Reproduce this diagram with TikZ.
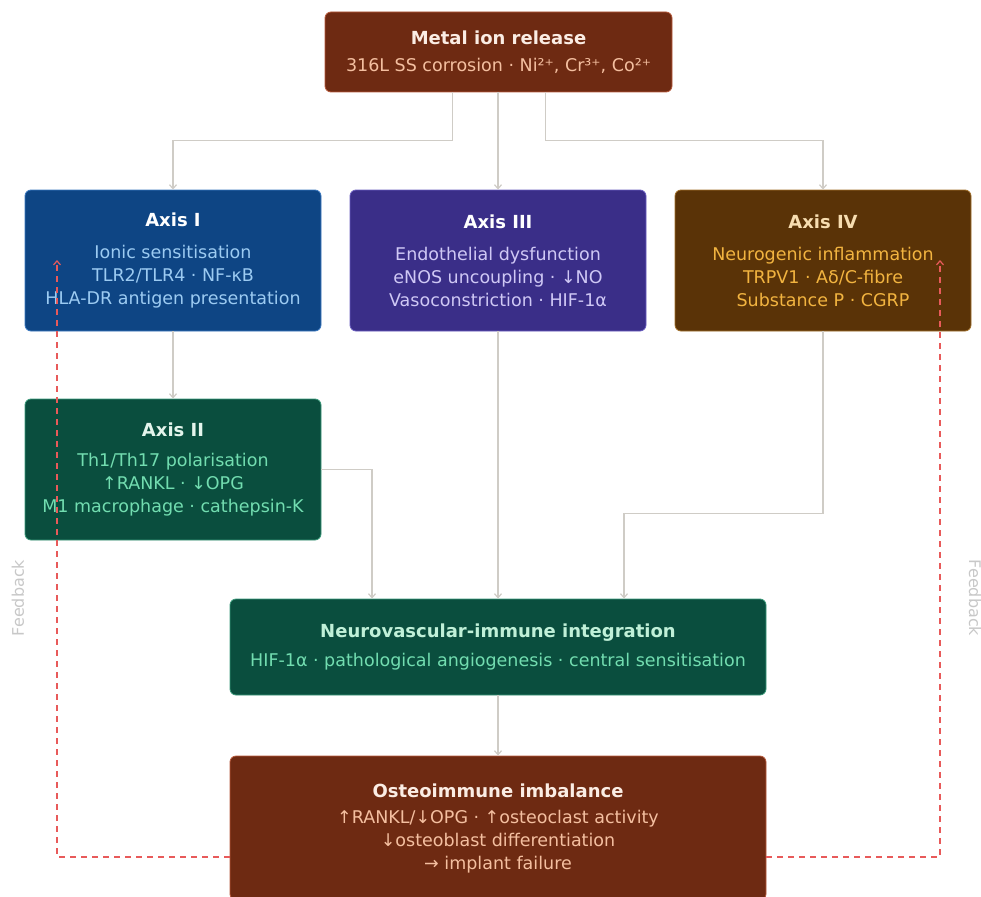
\documentclass[tikz,border=0pt]{standalone}
\usepackage{fontspec}
\setmainfont{DejaVu Sans}
\usetikzlibrary{arrows.meta,calc,positioning}
\newcommand{\upar}{↑}
\newcommand{\dnar}{↓}
\newcommand{\rar}{→}
\definecolor{rustfill}{HTML}{6E2A12}
\definecolor{rustdraw}{HTML}{B85A3C}
\definecolor{rusttitle}{HTML}{FBEDE4}
\definecolor{rusttext}{HTML}{F4BFA0}
\definecolor{bluefill}{HTML}{0E4584}
\definecolor{bluedraw}{HTML}{3A78C0}
\definecolor{bluetext}{HTML}{9CCBF2}
\definecolor{violetfill}{HTML}{3A2E88}
\definecolor{violetdraw}{HTML}{6A5EC0}
\definecolor{violettext}{HTML}{CFC8F5}
\definecolor{ochrefill}{HTML}{5A3307}
\definecolor{ochredraw}{HTML}{A2702A}
\definecolor{ochretitle}{HTML}{F7DDB0}
\definecolor{ochretext}{HTML}{F2B440}
\definecolor{greenfill}{HTML}{0A4E3E}
\definecolor{greendraw}{HTML}{3A9A7A}
\definecolor{greentitle}{HTML}{E4F5EC}
\definecolor{greentext}{HTML}{72DDB0}
\definecolor{minttitle}{HTML}{C0F0D8}
\definecolor{connline}{HTML}{CFCCC6}
\definecolor{fbline}{HTML}{E85A5A}
\definecolor{fblabel}{HTML}{C8C8C8}
\tikzstyle{axis}=[rectangle,rounded corners=6pt,line width=0.8pt,align=center,minimum width=296pt,minimum height=141pt,font=\fontsize{17.5}{23}\selectfont]
\tikzstyle{rust}=[axis,draw=rustdraw,fill=rustfill,text=rusttext]
\tikzstyle{axisblue}=[axis,draw=bluedraw,fill=bluefill,text=bluetext]
\tikzstyle{axisviolet}=[axis,draw=violetdraw,fill=violetfill,text=violettext]
\tikzstyle{axisochre}=[axis,draw=ochredraw,fill=ochrefill,text=ochretext]
\tikzstyle{axisgreen}=[axis,draw=greendraw,fill=greenfill,text=greentext]
\tikzstyle{conn}=[draw=connline,line width=1.2pt,-{Straight Barb[length=4pt,width=7pt]}]
\tikzstyle{fb}=[draw=fbline,line width=1.2pt,dash pattern=on 6pt off 5pt,-{Straight Barb[length=4pt,width=7pt]}]
\tikzstyle{fbtext}=[text=fblabel,font=\fontsize{16}{18}\selectfont]
\newcommand{\ttl}[1]{{\fontsize{18}{23}\selectfont\bfseries #1}}

\begin{document}
\begin{tikzpicture}[x=1pt,y=1pt]
	\useasboundingbox[fill=white] (0,0) rectangle (981,-896);

	\node[rust,minimum width=347pt,minimum height=80pt] (metal) at (498.5,-52)
		{\ttl{\color{rusttitle}Metal ion release}\\[4pt]
		316L SS corrosion · Ni²⁺, Cr³⁺, Co²⁺};

	\node[axisblue] (ax1) at (173,-260.5)
		{\ttl{\color{white}Axis I}\\[9pt]Ionic sensitisation\\TLR2/TLR4 · NF-κB\\HLA-DR antigen presentation};
	\node[axisviolet] (ax3) at (498,-260.5)
		{\ttl{\color{white}Axis III}\\[9pt]Endothelial dysfunction\\eNOS uncoupling · \dnar NO\\Vasoconstriction · HIF-1α};
	\node[axisochre] (ax4) at (823,-260.5)
		{\ttl{\color{ochretitle}Axis IV}\\[9pt]Neurogenic inflammation\\TRPV1 · Aδ/C-fibre\\Substance P · CGRP};
	\node[axisgreen] (ax2) at (173,-469.5)
		{\ttl{\color{greentitle}Axis II}\\[7pt]Th1/Th17 polarisation\\\upar RANKL · \dnar OPG\\M1 macrophage · cathepsin-K};

	\node[axisgreen,minimum width=536pt,minimum height=96pt] (neuro) at (498,-647)
		{\ttl{\color{minttitle}Neurovascular-immune integration}\\[6pt]HIF-1α · pathological angiogenesis · central sensitisation};
	\node[rust,minimum width=536pt,minimum height=144pt] (osteo) at (498,-828)
		{\ttl{\color{rusttitle}Osteoimmune imbalance}\\[3pt]\upar RANKL/\dnar OPG · \upar osteoclast activity\\\dnar osteoblast differentiation\\\rar\ implant failure};

	\draw[conn] ([xshift=-46]metal.south) -- ++(0,-48) -| (ax1.north);
	\draw[conn] (metal.south -| ax3.north) -- (ax3.north);
	\draw[conn] ([xshift=47]metal.south) -- ++(0,-48) -| (ax4.north);
	\draw[conn] (ax1.south) -- (ax2.north);
	\draw[conn] (ax2.east) -| ([xshift=-126]neuro.north);
	\draw[conn] (ax3.south) -- (neuro.north);
	\draw[conn] (ax4.south) -- ++(0,-182) -| ([xshift=126]neuro.north);
	\draw[conn] (neuro.south) -- (osteo.north);

	\coordinate (fbL) at (57,-260);
	\coordinate (fbR) at (940,-260);
	\draw[fb] ([yshift=-29]osteo.west) -| (fbL);
	\draw[fb] ([yshift=-29]osteo.east) -| (fbR);

	\node[fbtext,rotate=90] (fbLtext) at (18,-598) {Feedback};
	\node[fbtext,rotate=-90] (fbRtext) at (975,-598) {Feedback};
\end{tikzpicture}
\end{document}
